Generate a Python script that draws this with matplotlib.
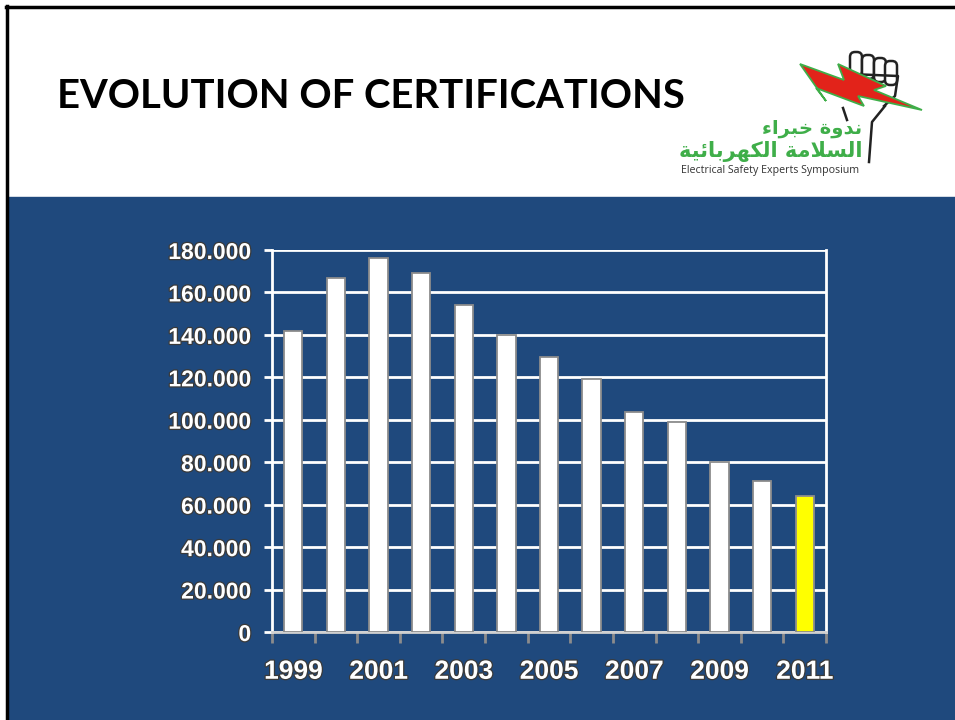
import numpy as np
import matplotlib
matplotlib.use("Agg")
from matplotlib import pyplot as plt
from matplotlib.patches import Rectangle, Polygon, FancyBboxPatch
import matplotlib.patheffects as pe

# data
years = [1999, 2000, 2001, 2002, 2003, 2004, 2005, 2006, 2007, 2008, 2009, 2010, 2011]
certifications = [142000, 167000, 176000, 169000, 154000, 140000, 129500, 119000,
                  103500, 99000, 80000, 71000, 64000]
bar_colors = ['white'] * 12 + ['#ffff00']
y_ticks = list(range(0, 180001, 20000))
title = "EVOLUTION OF CERTIFICATIONS"
logo_ar1 = "\uFE80\uFE8D\uFEAE\uFE92\uFEA7 \uFE93\uFEED\uFEAA\uFEE7"  # ندوة خبراء (shaped, visual order)
logo_ar2 = ("\uFE94\uFEF4\uFE8B\uFE8E\uFE91\uFEAE\uFEEC\uFEDC\uFEDF\uFE8D "
            "\uFE94\uFEE3\uFEFC\uFEB4\uFEDF\uFE8D")  # السلامة الكهربائية
logo_en = "Electrical Safety Experts Symposium"

W, H = 955, 720
blue = '#1f497d'

fig = plt.figure(figsize=(W / 100, H / 100), dpi=100)
fig.patch.set_facecolor('white')

# slide background, drawn in pixel coordinates
bg = fig.add_axes([0, 0, 1, 1])
bg.set_xlim(0, W)
bg.set_ylim(H, 0)
bg.axis('off')
bg.add_patch(Rectangle((8, 197), W - 8, H - 197, color=blue, zorder=1))
bg.plot([7, 7], [H, 6], color='black', lw=2.5, zorder=3)
bg.plot([6, W], [6.5, 6.5], color='black', lw=2.5, zorder=3)

bg.text(57, 97, title, fontsize=28.8, fontweight='bold', family='Lato',
        ha='left', va='center', color='black')

# logo: lightning bolt + fist outline + text
for i, fx in enumerate([856, 868, 880, 891]):
    bg.add_patch(FancyBboxPatch((fx - 6, 52 + i * 3), 12, 24, boxstyle="round,pad=0,rounding_size=5",
                                facecolor='white', edgecolor='#222222', lw=1.8, zorder=3))
bg.plot([846, 850, 898, 895, 884], [96, 74, 76, 96, 106], color='#222222', lw=1.8, zorder=3)
bolt = [(800, 64), (844, 80), (838, 64), (886, 86), (874, 90), (922, 110),
        (858, 96), (864, 106), (816, 88), (826, 101)]
bg.add_patch(Polygon(bolt, closed=True, facecolor='#e2231a', edgecolor='#3fae49', lw=1.3, zorder=4))
bg.plot([843, 847], [108, 120], color='#222222', lw=1.8, zorder=5)
bg.plot([885, 872, 869], [106, 122, 162], color='#222222', lw=1.8, zorder=5)

bg.text(862, 129, logo_ar1, fontsize=14, family='DejaVu Sans', fontweight='bold', color='#3fae49',
        ha='right', va='center')
bg.text(862, 152, logo_ar2, fontsize=15, family='DejaVu Sans', fontweight='bold', color='#3fae49',
        ha='right', va='center')
bg.text(770, 171, logo_en, fontsize=7.7, family='Open Sans', color='#333333',
        ha='center', va='center')

# chart
ax = fig.add_axes([272 / W, (H - 632) / H, 554 / W, 382 / H])
ax.set_facecolor(blue)
x = np.arange(len(years))
ax.bar(x, certifications, width=0.43, color=bar_colors, edgecolor='#8c8c8c', linewidth=1.3, zorder=3)
ax.set_xlim(-0.5, len(years) - 0.5)
ax.set_ylim(0, 180000)
ax.set_yticks(y_ticks)
ax.set_yticklabels([f"{v:,}".replace(',', '.') for v in y_ticks])
ax.grid(axis='y', color='white', lw=2, zorder=1)
ax.set_axisbelow(True)

ax.set_xticks(x[::2])
ax.set_xticklabels([str(y) for y in years[::2]])
ax.set_xticks(np.arange(-0.5, len(years)), minor=True)
ax.tick_params(axis='x', which='major', length=0, pad=20)
ax.tick_params(axis='x', which='minor', length=8, width=2, color='#8c8c8c', direction='out')
ax.tick_params(axis='y', length=6, width=2, color='white', pad=9)

halo = [pe.withStroke(linewidth=1.8, foreground='#3a3a3a')]
for lab in ax.get_yticklabels():
    lab.set_fontsize(16.5)
    lab.set_fontweight('bold')
    lab.set_family('Liberation Sans')
    lab.set_color('white')
    lab.set_path_effects(halo)
for lab in ax.get_xticklabels():
    lab.set_fontsize(19)
    lab.set_fontweight('bold')
    lab.set_family('Liberation Sans')
    lab.set_color('white')
    lab.set_path_effects(halo)

for side in ['left', 'right', 'top']:
    ax.spines[side].set_color('white')
    ax.spines[side].set_linewidth(2)
ax.spines['top'].set_visible(False)
ax.spines['bottom'].set_color('#d0d0d0')
ax.spines['bottom'].set_linewidth(2)

fig.savefig('out.png', dpi=100, facecolor=fig.get_facecolor())
